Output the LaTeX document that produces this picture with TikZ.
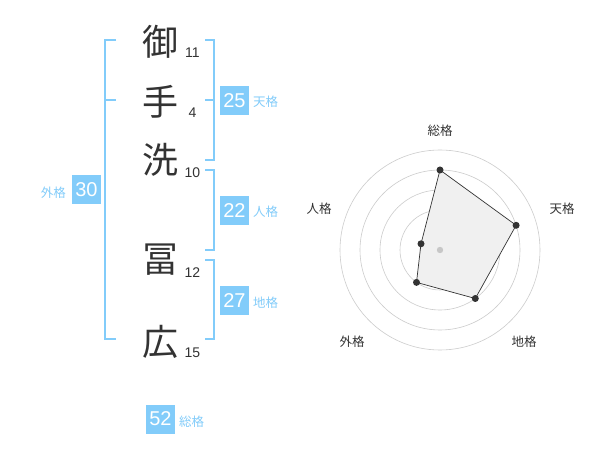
\documentclass[tikz,border=0pt]{standalone}
\usepackage{fontspec}
\setmainfont{Liberation Sans}
\newfontfamily\jp{Noto Sans CJK JP}
\definecolor{skyb}{RGB}{130,204,250}
\definecolor{ink}{RGB}{51,51,51}
\tikzset{
  kanji/.style={font=\jp\fontsize{36}{36}\selectfont, text=ink, inner sep=0pt},
  strokes/.style={font=\fontsize{14}{14}\selectfont, text=ink, inner sep=0pt},
  valbox/.style={fill=skyb, text=white, minimum size=29pt, inner sep=0pt, font=\fontsize{20}{20}\selectfont},
  vallabel/.style={text=skyb, font=\jp\fontsize{12.5}{12.5}\selectfont, inner sep=0pt},
  brk/.style={draw=skyb, line width=2pt},
  ring/.style={draw=black!20, line width=0.6pt},
  axislabel/.style={text=ink, font=\jp\fontsize{12.5}{12.5}\selectfont, inner sep=0pt},
  dot/.style={circle, fill=ink, inner sep=0pt, minimum size=7pt}
}
\begin{document}
\begin{tikzpicture}[x=1pt,y=-1pt]
\fill[white] (0,0) rectangle (600,470);
\useasboundingbox (0,0) rectangle (600,470);
% kanji
\node[kanji] (k1) at (160,42) {御};
\node[kanji] (k2) at (160,102) {手};
\node[kanji] (k3) at (160,160) {洗};
\node[kanji] (k4) at (160,260) {冨};
\node[kanji] (k5) at (160,342) {広};
\node[strokes] (n1) at (192.5,53) {11};
\node[strokes] (n2) at (192.5,113) {4};
\node[strokes] (n3) at (192.5,172.5) {10};
\node[strokes] (n4) at (192.5,272.5) {12};
\node[strokes] (n5) at (192.5,352.5) {15};
% brackets
\draw[brk] (116,40) -- (105,40) -- (105,339) -- (116,339);
\draw[brk] (105,100) -- (116,100);
\draw[brk] (205,40) -- (214,40) -- (214,160) -- (205,160);
\draw[brk] (205,100) -- (214,100);
\draw[brk] (205,170) -- (214,170) -- (214,250) -- (205,250);
\draw[brk] (205,260) -- (214,260) -- (214,339) -- (205,339);
% values
\node[valbox] (b25) at (234.5,100.5) {25};
\node[vallabel, anchor=west] (l25) at (253,102) {天格};
\node[valbox] (b22) at (234.5,210.5) {22};
\node[vallabel, anchor=west] (l22) at (253,212) {人格};
\node[valbox] (b27) at (234.5,300.5) {27};
\node[vallabel, anchor=west] (l27) at (253,303) {地格};
\node[valbox] (b30) at (86.5,190) {30};
\node[vallabel, anchor=east] (l30) at (66,192.5) {外格};
\node[valbox] (b52) at (160.5,419) {52};
\node[vallabel, anchor=west] (l52) at (179,421.5) {総格};
% radar
\coordinate (c) at (440,250);
\foreach \r in {20,40,60,80,100} \draw[ring] (c) circle (\r);
\coordinate (p1) at (440,170);
\coordinate (p2) at (516.1,225.3);
\coordinate (p3) at (475.3,298.5);
\coordinate (p4) at (416.5,282.4);
\coordinate (p5) at (421.0,243.8);
\filldraw[fill=black!6, draw=ink, line width=0.7pt] (p1) -- (p2) -- (p3) -- (p4) -- (p5) -- cycle;
\fill[black!22] (c) circle (3.2);
\foreach \p in {p1,p2,p3,p4,p5} \node[dot] at (\p) {};
\node[axislabel] (a1) at (440,131) {総格};
\node[axislabel] (a2) at (562,209) {天格};
\node[axislabel] (a3) at (524,342) {地格};
\node[axislabel] (a4) at (352,342) {外格};
\node[axislabel] (a5) at (319,209) {人格};
\end{tikzpicture}
\end{document}
